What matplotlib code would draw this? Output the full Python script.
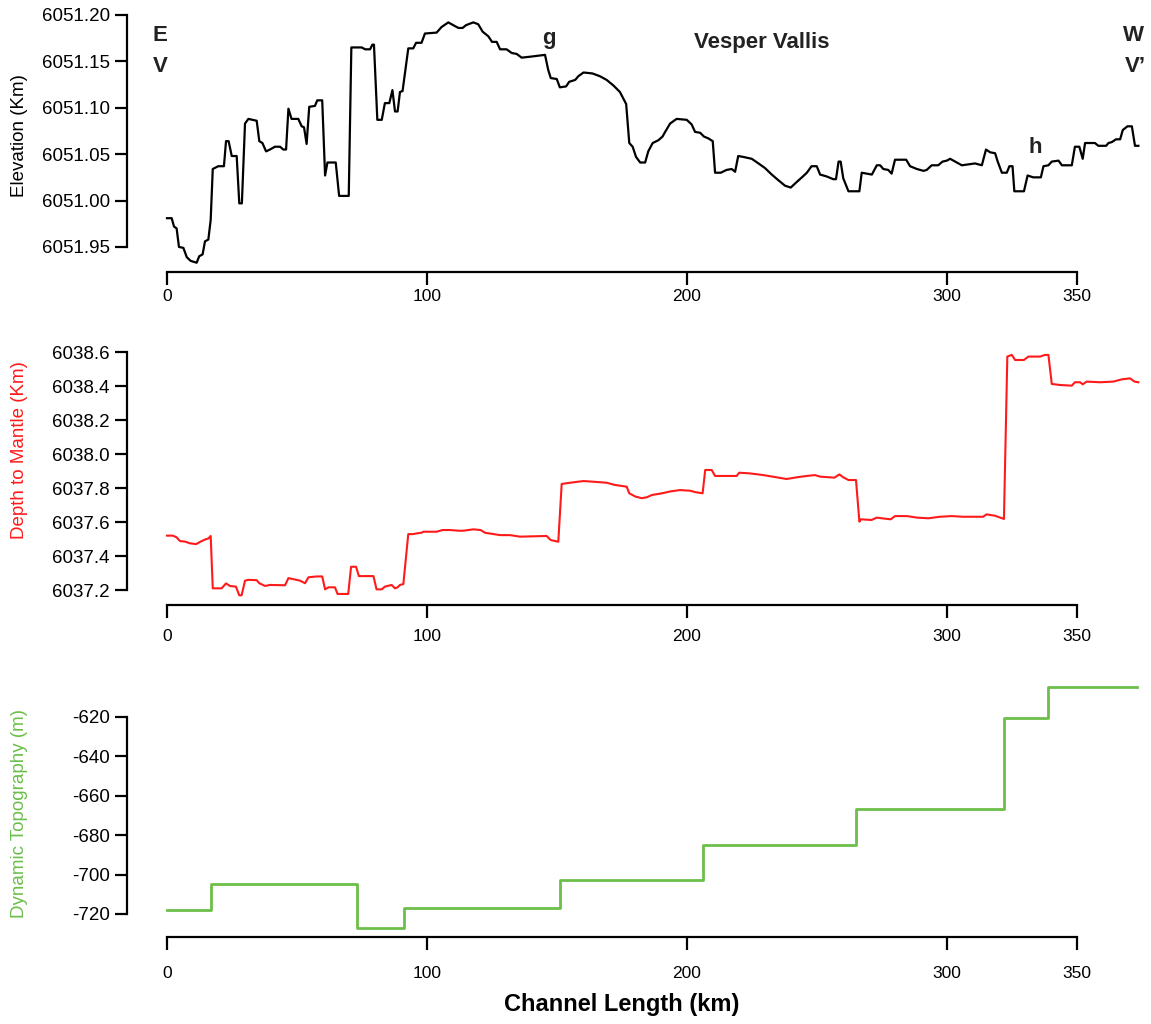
import matplotlib
matplotlib.use('Agg')
import matplotlib.pyplot as plt

plt.rcParams['font.family'] = ['Liberation Sans', 'DejaVu Sans']

# elevation profile (km along channel, elevation in km)
elev_km = [0, 1.8, 2.7, 3.7, 4.6, 6.3, 7.6, 9.1, 11.4, 12.4, 13.7, 14.6, 15.9, 16.8, 17.6,
           19.7, 21.9, 22.7, 23.7, 24.9, 26.8, 27.8, 28.8, 30.0, 31.3, 34.5, 35.5, 36.7,
           38.1, 39.6, 41.5, 43.5, 44.7, 45.8, 46.7, 47.9, 50.5, 51.8, 52.7, 53.7, 54.7,
           56.9, 57.8, 59.7, 60.8, 61.7, 64.9, 66.2, 69.9, 70.9, 74.9, 76.2, 78.1, 79.0,
           79.6, 80.9, 82.6, 83.8, 85.5, 86.7, 87.7, 88.7, 89.6, 90.6, 92.8, 94.7, 95.8,
           97.9, 99.2, 103.7, 105.6, 108.2, 110.1, 112.1, 113.7, 115.0, 117.8, 119.7,
           121.4, 123.6, 125.0, 126.8, 128.1, 130.6, 132.6, 134.5, 136.4, 139.6, 145.4,
           146.6, 147.6, 149.9, 151.1, 153.5, 154.7, 157.0, 158.2, 160.2, 163.6, 166.5,
           169.1, 171.7, 174.2, 175.5, 176.6, 177.8, 179.1, 180.4, 182.0, 183.9, 185.1,
           186.8, 189.0, 190.6, 191.6, 193.5, 196.0, 199.9, 201.8, 203.1, 205.1, 206.5,
           208.2, 209.9, 210.8, 213.0, 215.2, 217.2, 218.5, 219.7, 221.7, 224.9, 227.5,
           230.0, 232.6, 235.1, 237.7, 239.9, 242.2, 244.2, 246.1, 247.9, 249.9, 251.2,
           253.7, 256.3, 257.3, 258.3, 259.1, 260.1, 262.1, 266.3, 267.2, 269.1, 271.1,
           273.0, 274.3, 275.5, 277.4, 278.7, 280.0, 284.3, 285.8, 288.4, 291.0, 292.2,
           294.1, 296.6, 298.3, 299.9, 301.2, 303.1, 305.7, 308.3, 310.8, 313.4, 315.0,
           316.6, 318.5, 319.5, 321.1, 323.0, 324.0, 325.2, 325.9, 329.6, 331.0, 333.2,
           336.1, 337.1, 339.0, 340.3, 342.9, 344.2, 348.0, 349.2, 350.9, 352.2, 353.1,
           356.9, 358.2, 361.2, 362.1, 363.4, 365.0, 366.6, 367.6, 369.4, 371.1, 372.3, 373.6]
elev = [6050.981, 6050.981, 6050.972, 6050.970, 6050.950, 6050.949, 6050.939, 6050.935,
        6050.933, 6050.940, 6050.942, 6050.956, 6050.958, 6050.979, 6051.034, 6051.037,
        6051.037, 6051.064, 6051.064, 6051.048, 6051.048, 6050.997, 6050.997, 6051.083,
        6051.088, 6051.086, 6051.064, 6051.062, 6051.053, 6051.055, 6051.058, 6051.058,
        6051.055, 6051.055, 6051.099, 6051.088, 6051.088, 6051.080, 6051.079, 6051.061,
        6051.101, 6051.102, 6051.108, 6051.108, 6051.027, 6051.041, 6051.041, 6051.005,
        6051.005, 6051.165, 6051.165, 6051.163, 6051.163, 6051.168, 6051.168, 6051.087,
        6051.087, 6051.105, 6051.105, 6051.119, 6051.096, 6051.096, 6051.117, 6051.118,
        6051.164, 6051.164, 6051.170, 6051.170, 6051.180, 6051.181, 6051.187, 6051.192,
        6051.189, 6051.186, 6051.186, 6051.189, 6051.192, 6051.190, 6051.182, 6051.177,
        6051.171, 6051.171, 6051.163, 6051.163, 6051.159, 6051.158, 6051.154, 6051.155,
        6051.157, 6051.141, 6051.132, 6051.131, 6051.122, 6051.123, 6051.128, 6051.130,
        6051.134, 6051.138, 6051.137, 6051.134, 6051.130, 6051.124, 6051.117, 6051.110,
        6051.104, 6051.062, 6051.058, 6051.047, 6051.041, 6051.041, 6051.053, 6051.062,
        6051.065, 6051.069, 6051.074, 6051.083, 6051.088, 6051.087, 6051.082, 6051.074,
        6051.073, 6051.069, 6051.067, 6051.064, 6051.030, 6051.030, 6051.033, 6051.034,
        6051.031, 6051.048, 6051.047, 6051.045, 6051.040, 6051.035, 6051.028, 6051.022,
        6051.016, 6051.014, 6051.020, 6051.025, 6051.030, 6051.037, 6051.037, 6051.028,
        6051.026, 6051.023, 6051.023, 6051.042, 6051.042, 6051.024, 6051.010, 6051.010,
        6051.030, 6051.029, 6051.028, 6051.038, 6051.038, 6051.034, 6051.033, 6051.029,
        6051.044, 6051.044, 6051.037, 6051.034, 6051.032, 6051.033, 6051.038, 6051.038,
        6051.042, 6051.043, 6051.045, 6051.042, 6051.038, 6051.039, 6051.040, 6051.038,
        6051.055, 6051.052, 6051.051, 6051.042, 6051.030, 6051.030, 6051.037, 6051.037,
        6051.010, 6051.010, 6051.027, 6051.025, 6051.025, 6051.037, 6051.038, 6051.042,
        6051.043, 6051.038, 6051.038, 6051.058, 6051.058, 6051.045, 6051.062, 6051.062,
        6051.059, 6051.059, 6051.062, 6051.063, 6051.066, 6051.066, 6051.076, 6051.080,
        6051.080, 6051.059, 6051.059]

# depth to mantle (km)
mantle_km = [0, 2.2, 3.7, 5.0, 6.9, 8.8, 11.2, 12.7, 14.6, 15.9, 16.8, 17.6, 21.0, 22.7,
             24.2, 26.5, 27.8, 28.7, 30.0, 31.3, 34.5, 35.5, 37.7, 39.6, 45.4, 46.7, 48.6,
             51.2, 53.1, 54.4, 57.6, 59.7, 60.8, 62.1, 64.6, 65.6, 69.7, 70.8, 72.7, 73.8,
             79.4, 80.6, 82.6, 83.8, 86.4, 87.7, 88.7, 89.6, 90.9, 92.8, 94.7, 96.0, 97.9,
             98.6, 103.7, 106.0, 108.8, 112.1, 114.0, 117.8, 120.6, 122.3, 125.5, 128.1,
             131.9, 135.8, 146.0, 147.6, 150.5, 151.8, 155.0, 160.1, 164.0, 169.1, 172.3,
             176.8, 177.8, 180.1, 182.6, 184.6, 186.5, 190.4, 193.6, 197.3, 201.3, 203.1,
             206.0, 207.0, 209.5, 210.8, 219.1, 220.1, 224.2, 229.4, 234.5, 238.3, 242.2,
             246.0, 249.2, 251.2, 256.7, 258.6, 260.1, 262.1, 265.0, 266.3, 266.9, 271.0,
             273.0, 274.9, 278.4, 280.0, 284.5, 288.4, 292.9, 297.3, 301.8, 306.3, 313.9,
             315.2, 318.5, 320.4, 321.9, 323.2, 324.9, 326.2, 329.6, 331.3, 335.8, 337.7,
             339.0, 340.3, 343.5, 348.0, 349.2, 351.2, 352.2, 353.7, 358.9, 364.0, 367.2,
             370.4, 372.1, 373.6]
mantle = [6037.520, 6037.520, 6037.510, 6037.488, 6037.485, 6037.475, 6037.470, 6037.483,
          6037.497, 6037.503, 6037.518, 6037.210, 6037.210, 6037.239, 6037.224, 6037.220,
          6037.169, 6037.169, 6037.255, 6037.260, 6037.258, 6037.240, 6037.224, 6037.230,
          6037.228, 6037.270, 6037.264, 6037.255, 6037.240, 6037.275, 6037.280, 6037.280,
          6037.204, 6037.216, 6037.216, 6037.177, 6037.177, 6037.337, 6037.337, 6037.282,
          6037.282, 6037.204, 6037.204, 6037.220, 6037.230, 6037.210, 6037.216, 6037.230,
          6037.235, 6037.529, 6037.529, 6037.533, 6037.537, 6037.543, 6037.543, 6037.553,
          6037.553, 6037.549, 6037.549, 6037.557, 6037.553, 6037.537, 6037.529, 6037.523,
          6037.523, 6037.514, 6037.518, 6037.494, 6037.484, 6037.824, 6037.831, 6037.841,
          6037.837, 6037.831, 6037.818, 6037.808, 6037.769, 6037.750, 6037.740, 6037.746,
          6037.759, 6037.769, 6037.780, 6037.788, 6037.784, 6037.776, 6037.769, 6037.906,
          6037.906, 6037.871, 6037.871, 6037.890, 6037.886, 6037.876, 6037.863, 6037.853,
          6037.863, 6037.871, 6037.876, 6037.867, 6037.861, 6037.880, 6037.863, 6037.847,
          6037.847, 6037.602, 6037.616, 6037.612, 6037.626, 6037.622, 6037.616, 6037.635,
          6037.635, 6037.626, 6037.622, 6037.631, 6037.635, 6037.631, 6037.631, 6037.645,
          6037.637, 6037.626, 6037.618, 6038.573, 6038.583, 6038.553, 6038.553, 6038.573,
          6038.573, 6038.583, 6038.583, 6038.412, 6038.406, 6038.402, 6038.422, 6038.422,
          6038.410, 6038.426, 6038.422, 6038.426, 6038.439, 6038.445, 6038.426, 6038.422]

# dynamic topography (m), constant between steps
dyn_km = [0, 17, 73, 91, 151, 206, 265, 322, 339, 373]
dyn_m = [-718, -705, -727.3, -717, -703, -685, -667, -620.5, -605, -605]

x_ticks = [0, 100, 200, 300, 350]
elev_ticks = [6050.95, 6051.00, 6051.05, 6051.10, 6051.15, 6051.20]
elev_ticklabels = ['6051.95', '6051.00', '6051.05', '6051.10', '6051.15', '6051.20']
mantle_ticks = [6037.2, 6037.4, 6037.6, 6037.8, 6038.0, 6038.2, 6038.4, 6038.6]
dyn_ticks = [-720, -700, -680, -660, -640, -620]

W, H = 1151, 1024
fig = plt.figure(figsize=(W / 100, H / 100), dpi=100)

XLIM = ((127 - 167) / 2.6, (1151 - 167) / 2.6)


def r_axes(top_px, bottom_px, ylim, yticks, ylabels, xpad):
    ax = fig.add_axes([127 / W, 1 - bottom_px / H, (W - 127) / W, (bottom_px - top_px) / H])
    ax.set_xlim(*XLIM)
    ax.set_ylim(*ylim)
    for s in ['top', 'right']:
        ax.spines[s].set_visible(False)
    ax.spines['left'].set_bounds(yticks[0], yticks[-1])
    ax.spines['bottom'].set_bounds(0, 350)
    for s in ['left', 'bottom']:
        ax.spines[s].set_linewidth(1.6)
    ax.set_xticks(x_ticks)
    ax.set_yticks(yticks)
    ax.set_yticklabels(ylabels)
    ax.tick_params(axis='both', direction='out', length=9, width=1.6, labelsize=13.5)
    ax.tick_params(axis='y', pad=3.5)
    ax.tick_params(axis='x', pad=xpad, labelsize=12.5)
    ax.patch.set_visible(False)
    return ax


ax1 = r_axes(12, 272, (6050.923, 6051.2032), elev_ticks, elev_ticklabels, 3)
ax1.plot(elev_km, elev, color='black', lw=1.6)

ax2 = r_axes(343.5, 605, (6037.112, 6038.65), mantle_ticks,
             ['%.1f' % v for v in mantle_ticks], 8)
ax2.plot(mantle_km, mantle, color='#ff1a1a', lw=1.5)

ax3 = r_axes(677, 937, (-731.66, -599.9), dyn_ticks, [str(v) for v in dyn_ticks], 12)
ax3.step(dyn_km, dyn_m, where='post', color='#6cbf4a', lw=2)


def ftext(x, y, s, **kw):
    fig.text(x / W, 1 - y / H, s, **kw)


# y axis titles
ftext(20, 136, 'Elevation (Km)', rotation=90, ha='center', va='center', fontsize=13.5, color='black')
ftext(20, 450, 'Depth to Mantle (Km)', rotation=90, ha='center', va='center', fontsize=13.5, color='#ff1a1a')
ftext(20, 814, 'Dynamic Topography (m)', rotation=90, ha='center', va='center', fontsize=13.5, color='#6cbf4a')

# annotations
bold = dict(fontsize=16, fontweight='bold', color='#222222', ha='center', va='baseline')
ftext(160, 41, 'E', **bold)
ftext(160, 72, 'V', **bold)
ftext(549, 44, 'g', **bold)
ftext(762, 48, 'Vesper Vallis', **bold)
ftext(1133, 41, 'W', **bold)
ftext(1135, 72, 'V\u2019', **bold)
ftext(1035, 153, 'h', **bold)

ftext(622, 1005, 'Channel Length (km)', fontsize=17, fontweight='bold', ha='center', va='center')

fig.savefig('out.png', dpi=100)
